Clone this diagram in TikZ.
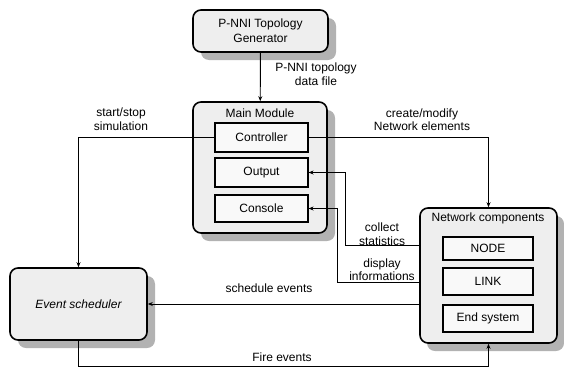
\documentclass[tikz,border=0pt]{standalone}
\usepackage{fontspec}
\setmainfont{Liberation Sans}
\usetikzlibrary{arrows.meta,calc}
\begin{document}
\begin{tikzpicture}[x=1pt,y=-1pt,
  font=\fontsize{12}{14}\selectfont,
  outerbox/.style={draw=black,line width=1.6pt,rounded corners=8pt,fill=gray!13,inner sep=0pt},
  shadowbox/.style={fill=gray!60,rounded corners=8pt,draw=none,inner sep=0pt},
  innerbox/.style={draw=black,line width=1.1pt,fill=gray!5,inner sep=0pt},
  conn/.style={line width=0.9pt,-{Stealth[length=5pt,width=4pt]}},
  lbl/.style={align=center,inner sep=0pt,font=\fontsize{12}{13.5}\selectfont}]
\useasboundingbox (0,0) rectangle (564,367);
% shadows
\node[shadowbox,minimum width=135pt,minimum height=42pt] at (268.5,39) {};
\node[shadowbox,minimum width=134pt,minimum height=131pt] at (268,175.5) {};
\node[shadowbox,minimum width=137pt,minimum height=72pt] at (86.5,312) {};
\node[shadowbox,minimum width=137pt,minimum height=135pt] at (495.5,283.5) {};
% outer boxes
\node[outerbox,minimum width=135pt,minimum height=42pt,align=center,font=\fontsize{12}{15}\selectfont] (gen) at (260.5,31) {P-NNI Topology\\Generator};
\node[outerbox,minimum width=134pt,minimum height=131pt] (main) at (260,167.5) {};
\node[lbl] (mainlbl) at (260,113) {Main Module};
\node[outerbox,minimum width=137pt,minimum height=72pt,font=\fontsize{12}{14}\selectfont\itshape] (ev) at (78.5,304) {Event scheduler};
\node[outerbox,minimum width=137pt,minimum height=135pt] (nc) at (488.5,275.5) {};
\node[lbl] (nclbl) at (488,218) {Network components};
% inner boxes
\node[innerbox,minimum width=93pt,minimum height=29pt] (ctrl) at (261.5,137.5) {Controller};
\node[innerbox,minimum width=93pt,minimum height=29pt] (out) at (261.5,172.5) {Output};
\node[innerbox,minimum width=93pt,minimum height=27pt] (cons) at (261.5,208.5) {Console};
\node[innerbox,minimum width=90pt,minimum height=23pt] (nd) at (488,248.5) {NODE};
\node[innerbox,minimum width=90pt,minimum height=27pt] (lk) at (488,281.5) {LINK};
\node[innerbox,minimum width=90pt,minimum height=27pt] (es) at (488,318.5) {End system};
% helper coordinates
\coordinate (c1) at (345,245);
\coordinate (c2) at (337,282);
% connectors
\draw[conn] (gen) -- (main);
\draw[conn] (ctrl.west) -| (ev.north);
\draw[conn] (ctrl.east) -| (nc.north);
\draw[conn] (c1 -| nc.west) -- (c1) |- (out.east);
\draw[conn] (c2 -| nc.west) -- (c2) |- (cons.east);
\draw[conn] (nc.west |- ev.east) -- (ev.east);
\draw[conn] (ev.south) -- ++(0,26) -| (nc.south);
% labels
\node[lbl] (l1) at (316,74) {P-NNI topology\\data file};
\node[lbl] (l2) at (121,119) {start/stop\\simulation};
\node[lbl] (l3) at (422,119.5) {create/modify\\Network elements};
\node[lbl] (l4) at (382,234) {collect\\statistics};
\node[lbl] (l5) at (382,269.5) {display\\informations};
\node[lbl] (l6) at (269,288) {schedule events};
\node[lbl] (l7) at (282,357) {Fire events};
\end{tikzpicture}
\end{document}
